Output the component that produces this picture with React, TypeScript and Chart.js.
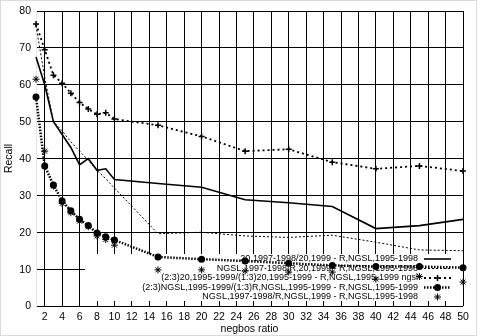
import React, { useEffect, useRef } from 'react';
import { Chart, registerables } from 'chart.js';

Chart.register(...registerables);

// ---- data ----
const xValues = [1, 2, 3, 4, 5, 6, 7, 8, 9, 10, 15, 20, 25, 30, 35, 40, 45, 50];
const solidSeries = [67.5, 60, 50, 46.5, 43, 38.3, 40, 36.8, 37.2, 34.3, 33.2, 32.2, 28.8, 28, 27, 21, 21.8, 23.5];
const dashedSeries = [76, 62, 50, 47.5, 44.5, 42, 39.5, 36.8, 34.5, 32, 19.6, 20, 19, 18.6, 19.2, 17.3, 15.2, 15];
const plusSeries = [76.5, 69.5, 62.6, 60.4, 57.7, 55.2, 53.4, 52, 52.4, 50.7, 49, 46, 42, 42.5, 39, 37.2, 38, 36.6];
const circleSeries = [56.7, 38, 32.8, 28.5, 25.8, 23.5, 21.8, 19.8, 18.8, 17.9, 13.3, 12.7, 12.2, 11.6, 11, 10.7, 10.7, 10.4];
const starSeries = [61.5, 42, 32.5, 27.8, 25.3, 23, 21.5, 19, 18, 16.5, 9.8, 9.8, 9.5, 9.2, 9.2, 7.3, 8, 6.5];

const legendLabels = [
  '20,1997-1998/20,1999 - R,NGSL,1995-1998',
  'NGSL,1997-1998/R,20,1999 - R,NGSL,1995-1998',
  '(2:3)20,1995-1999/(1:3)20,1995-1999 - R,NGSL,1995-1999 ngsl',
  '(2:3)NGSL,1995-1999/(1:3)R,NGSL,1995-1999 - R,NGSL,1995-1999',
  'NGSL,1997-1998/R,NGSL,1999 - R,NGSL,1995-1998',
];
const xTickValues = [2, 4, 6, 8, 10, 12, 14, 16, 18, 20, 22, 24, 26, 28, 30, 32, 34, 36, 38, 40, 42, 44, 46, 48, 50];
const yTickValues = [0, 10, 20, 30, 40, 50, 60, 70, 80];
const yAxisTitle = 'Recall';
const xAxisTitle = 'negbos ratio';

const INK = '#000';
const FONT_FAMILY = '"Liberation Sans", Arial, sans-serif';
const AXIS_FONT = { family: FONT_FAMILY, size: 10.5 };
const LEGEND_FONT = '9px ' + FONT_FAMILY;
const MARK_CLIP = 6;

function drawMarker(ctx: CanvasRenderingContext2D, kind: string, x: number, y: number) {
  ctx.save();
  ctx.setLineDash([]);
  ctx.strokeStyle = INK;
  ctx.fillStyle = INK;
  if (kind === 'circle') {
    ctx.beginPath();
    ctx.arc(x, y, 3.5, 0, Math.PI * 2);
    ctx.fill();
  } else if (kind === 'cross') {
    ctx.lineWidth = 1.5;
    ctx.beginPath();
    ctx.moveTo(x - 3, y); ctx.lineTo(x + 3, y);
    ctx.moveTo(x, y - 3); ctx.lineTo(x, y + 3);
    ctx.stroke();
  } else if (kind === 'star') {
    ctx.lineWidth = 1;
    const r = 3.5;
    ctx.beginPath();
    ctx.moveTo(x - r, y); ctx.lineTo(x + r, y);
    ctx.moveTo(x, y - r); ctx.lineTo(x, y + r);
    const d = r * 0.7071;
    ctx.moveTo(x - d, y - d); ctx.lineTo(x + d, y + d);
    ctx.moveTo(x - d, y + d); ctx.lineTo(x + d, y - d);
    ctx.stroke();
  }
  ctx.restore();
}

const legendPlugin = {
  id: 'gnuLegend',
  beforeDatasetsDraw(chart: any) {
    const { ctx, chartArea } = chart;
    const boxLeft = chartArea.left + 49;
    const boxTop = chartArea.bottom - 52;
    const boxBottom = chartArea.bottom - 5;
    ctx.save();
    ctx.fillStyle = '#fff';
    ctx.fillRect(boxLeft, boxTop, chartArea.right - boxLeft - 1, boxBottom - boxTop);
    ctx.font = LEGEND_FONT;
    ctx.fillStyle = INK;
    ctx.textAlign = 'right';
    ctx.textBaseline = 'middle';
    const textRight = chartArea.right - 45;
    const sampleL = chartArea.right - 39;
    const sampleR = chartArea.right - 12;
    const sampleMid = (sampleL + sampleR) / 2;
    chart.data.datasets.forEach((ds: any, i: number) => {
      const y = boxTop + 5 + i * 9.5;
      ctx.fillText(legendLabels[i], textRight, y);
      if (ds.showLine !== false) {
        ctx.save();
        ctx.strokeStyle = INK;
        ctx.lineWidth = ds.borderWidth;
        ctx.setLineDash(ds.borderDash || []);
        ctx.beginPath();
        ctx.moveTo(sampleL, y);
        ctx.lineTo(sampleR, y);
        ctx.stroke();
        ctx.restore();
      }
      if (ds.pointRadius > 0) drawMarker(ctx, ds.legendMarker, sampleMid, y);
    });
    ctx.restore();
  },
};

// y tick labels (through the y scale's pixel mapping) and the thin outer frame
const axisExtrasPlugin = {
  id: 'axisExtras',
  afterDraw(chart: any) {
    const { ctx, chartArea } = chart;
    const yScale = chart.scales.y;
    ctx.save();
    ctx.font = `${AXIS_FONT.size}px ${FONT_FAMILY}`;
    ctx.fillStyle = INK;
    ctx.textAlign = 'right';
    ctx.textBaseline = 'middle';
    yTickValues.forEach((v) => {
      ctx.fillText(String(v), chartArea.left - 5, yScale.getPixelForValue(v) + 0.5);
    });
    ctx.strokeStyle = '#b4b4b4';
    ctx.lineWidth = 1;
    ctx.setLineDash([1, 1]);
    ctx.strokeRect(0.5, 0.5, chart.width - 4, chart.height - 1);
    ctx.restore();
  },
};

export default function App() {
  const ref = useRef<HTMLCanvasElement>(null);
  useEffect(() => {
    document.body.style.margin = '0';
    const canvas = ref.current;
    if (!canvas) return;
    const mk = (v: number[]) => v.map((y, i) => ({ x: xValues[i], y }));
    const chart = new Chart(canvas, {
      type: 'line',
      data: {
        datasets: [
          {
            data: mk(solidSeries), borderColor: INK, borderWidth: 1.6, pointRadius: 0,
            fill: false, tension: 0, legendMarker: 'none', clip: MARK_CLIP,
          } as any,
          {
            data: mk(dashedSeries), borderColor: INK, borderWidth: 1, borderDash: [2, 2], pointRadius: 0,
            fill: false, tension: 0, legendMarker: 'none', clip: MARK_CLIP,
          } as any,
          {
            data: mk(plusSeries), borderColor: INK, borderWidth: 1.8, borderDash: [2, 3],
            pointStyle: 'cross', pointRadius: 3, pointBorderWidth: 1.5, pointBorderColor: INK,
            pointBackgroundColor: INK, fill: false, tension: 0, legendMarker: 'cross', clip: MARK_CLIP,
          } as any,
          {
            data: mk(circleSeries), borderColor: INK, borderWidth: 2.5, borderDash: [1.5, 1.5],
            pointStyle: 'circle', pointRadius: 3.5, pointBorderWidth: 0, pointBackgroundColor: INK,
            fill: false, tension: 0, legendMarker: 'circle', clip: MARK_CLIP,
          } as any,
          {
            data: mk(starSeries), showLine: false, borderColor: INK, borderWidth: 1,
            pointStyle: 'star', pointRadius: 3.5, pointBorderWidth: 1, pointBorderColor: INK,
            fill: false, legendMarker: 'star', clip: MARK_CLIP,
          } as any,
        ],
      },
      options: {
        responsive: false,
        animation: false,
        devicePixelRatio: 1,
        layout: { padding: { left: 0, top: 11, right: 17, bottom: 0 } },
        plugins: { legend: { display: false }, tooltip: { enabled: false } },
        scales: {
          x: {
            type: 'linear',
            min: 1,
            max: 50,
            afterBuildTicks: (scale: any) => {
              scale.ticks = xTickValues.map((v) => ({ value: v }));
            },
            afterFit: (scale: any) => { scale.height = 30; },
            grid: { color: INK, lineWidth: 1, drawTicks: false },
            ticks: { color: INK, font: AXIS_FONT, padding: 5, maxRotation: 0, autoSkip: false },
            title: { display: true, text: xAxisTitle, color: INK, font: AXIS_FONT, padding: { top: 0, bottom: 0.8 } },
          },
          y: {
            type: 'linear',
            min: 0,
            max: 80,
            afterBuildTicks: (scale: any) => {
              scale.ticks = yTickValues.map((v) => ({ value: v }));
            },
            afterFit: (scale: any) => { scale.width = 36; },
            grid: { color: INK, lineWidth: 1, drawTicks: false },
            ticks: { display: false },
            title: { display: true, text: yAxisTitle, color: INK, font: AXIS_FONT, padding: { top: 2.7, bottom: 0 } },
          },
        },
      },
      plugins: [legendPlugin, axisExtrasPlugin],
    } as any);
    return () => chart.destroy();
  }, []);

  return (
    <div>
      <canvas ref={ref} width={480} height={336} />
    </div>
  );
}
